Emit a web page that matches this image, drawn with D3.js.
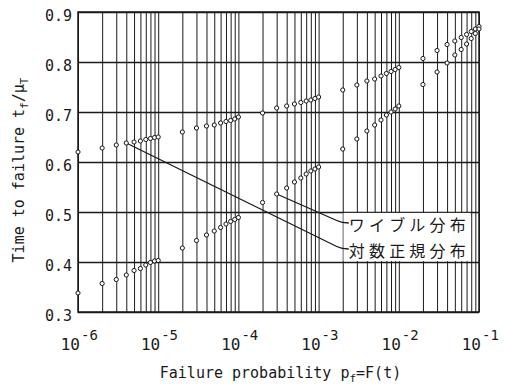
<!DOCTYPE html>
<html><head><meta charset="utf-8">
<script src="https://cdn.jsdelivr.net/npm/d3@7"></script>
<style>body{margin:0;background:#fff}svg{display:block}</style>
</head><body>
<svg id="c" width="505" height="385"></svg>
<script>
// ---- data ----
const probabilities = [
  1e-6, 2e-6, 3e-6, 4e-6, 5e-6, 6e-6, 7e-6, 8e-6, 9e-6,
  1e-5, 2e-5, 3e-5, 4e-5, 5e-5, 6e-5, 7e-5, 8e-5, 9e-5,
  1e-4, 2e-4, 3e-4, 4e-4, 5e-4, 6e-4, 7e-4, 8e-4, 9e-4,
  1e-3, 2e-3, 3e-3, 4e-3, 5e-3, 6e-3, 7e-3, 8e-3, 9e-3,
  1e-2, 2e-2, 3e-2, 4e-2, 5e-2, 6e-2, 7e-2, 8e-2, 9e-2,
  1e-1
];
// 対数正規分布 (upper series)
const lognormalValues = [
  0.620, 0.628, 0.634, 0.638, 0.640, 0.642, 0.645, 0.647, 0.649,
  0.650, 0.660, 0.668, 0.672, 0.674, 0.678, 0.681, 0.683, 0.686,
  0.690, 0.698, 0.708, 0.712, 0.716, 0.719, 0.722, 0.724, 0.727,
  0.730, 0.744, 0.754, 0.762, 0.766, 0.772, 0.777, 0.781, 0.785,
  0.789, 0.807, 0.823, 0.835, 0.842, 0.849, 0.855, 0.861, 0.866,
  0.871
];
// ワイブル分布 (lower series)
const weibullValues = [
  0.338, 0.357, 0.365, 0.374, 0.383, 0.387, 0.394, 0.399, 0.402,
  0.403, 0.428, 0.443, 0.454, 0.462, 0.469, 0.476, 0.481, 0.485,
  0.489, 0.519, 0.536, 0.548, 0.560, 0.568, 0.576, 0.582, 0.586,
  0.590, 0.626, 0.646, 0.662, 0.674, 0.684, 0.694, 0.700, 0.706,
  0.712, 0.755, 0.780, 0.798, 0.814, 0.825, 0.836, 0.847, 0.857,
  0.866
];
const yTicks = [0.3, 0.4, 0.5, 0.6, 0.7, 0.8, 0.9];
const yTickLabels = ["0.3", "0.4", "0.5", "0.6", "0.7", "0.8", "0.9"];
const xTickExponents = [-6, -5, -4, -3, -2, -1];
const labelWeibull = "ワイブル分布";
const labelLognormal = "対数正規分布";
// which points the leader lines start from
const weibullLeaderP = 3e-4;
const lognormalLeaderP = 4e-6;
// label box extent in data units
const labelBoxP = [2e-3, 8e-2];
const labelBoxT = [0.5, 0.4];

// ---- drawing ----
(function () {
const mLeft = 78, mRight = 479, mTop = 12, mBottom = 312;
const svg = d3.select("#c");
const x = d3.scaleLog().domain([1e-6, 1e-1]).range([mLeft, mRight]);
const y = d3.scaleLinear().domain([0.3, 0.9]).range([mBottom, mTop]);
const mono = "'DejaVu Sans Mono', 'Liberation Mono', monospace";
const ink = "#1a1a1a";

// vertical grid
const gx = svg.append("g").attr("transform", `translate(0,${mBottom})`)
  .call(d3.axisBottom(x).tickSize(-(mBottom - mTop)).tickFormat(""));
gx.select(".domain").remove();
gx.selectAll("line").attr("stroke", ink).attr("stroke-width", 1);

// horizontal grid
const gy = svg.append("g").attr("transform", `translate(${mLeft},0)`)
  .call(d3.axisLeft(y).tickValues(yTicks).tickSize(-(mRight - mLeft)).tickFormat(""));
gy.select(".domain").remove();
gy.selectAll("line").attr("stroke", ink).attr("stroke-width", 1.3);

// frame
svg.append("rect").attr("x", mLeft).attr("y", mTop)
  .attr("width", mRight - mLeft).attr("height", mBottom - mTop)
  .attr("fill", "none").attr("stroke", ink).attr("stroke-width", 1.5);

// label box (white, hides grid)
const bx0 = x(labelBoxP[0]), bx1 = x(labelBoxP[1]);
const by0 = y(labelBoxT[0]), by1 = y(labelBoxT[1]);
svg.append("rect").attr("x", bx0 + 0.8).attr("y", by0 + 0.9)
  .attr("width", bx1 - bx0 - 1.6).attr("height", by1 - by0 - 1.8)
  .attr("fill", "#fff");

// leader lines
function leader(p, vals, ly) {
  const i = probabilities.indexOf(p);
  const sx = x(p), sy = y(vals[i]);
  const ex = bx0 - 6;
  const ey = ly - 2.5;
  return `M${sx},${sy} L${ex},${ey} Q${bx0 - 1},${ly} ${bx0 + 6},${ly}`;
}
const wY = by0 + 11, lY = by0 + 37;
svg.append("path").attr("d", leader(weibullLeaderP, weibullValues, wY))
  .attr("fill", "none").attr("stroke", ink).attr("stroke-width", 1.3);
svg.append("path").attr("d", leader(lognormalLeaderP, lognormalValues, lY))
  .attr("fill", "none").attr("stroke", ink).attr("stroke-width", 1.3);

const cjk = "'Noto Sans CJK JP', 'Noto Sans CJK SC', sans-serif";
svg.append("text").attr("x", bx0 + 6).attr("y", wY + 8)
  .attr("font-family", cjk).attr("font-size", 16).attr("letter-spacing", 4.2)
  .attr("fill", ink).text(labelWeibull);
svg.append("text").attr("x", bx0 + 6).attr("y", lY + 8)
  .attr("font-family", cjk).attr("font-size", 16).attr("letter-spacing", 4.2)
  .attr("fill", ink).text(labelLognormal);

// points
[lognormalValues, weibullValues].forEach(vals => {
  svg.append("g").selectAll("circle")
    .data(probabilities.map((p, i) => [p, vals[i]]))
    .join("circle")
    .attr("cx", d => x(d[0])).attr("cy", d => y(d[1]))
    .attr("r", 2.1).attr("fill", "#fff")
    .attr("stroke", ink).attr("stroke-width", 1);
});

// y tick labels
svg.append("g").selectAll("text").data(yTicks).join("text")
  .attr("x", mLeft - 6).attr("y", d => y(d) + 8.5)
  .attr("text-anchor", "end").attr("font-family", mono).attr("font-size", 15)
  .attr("fill", ink).text((d, i) => yTickLabels[i]);

// x tick labels 10^k
const xl = svg.append("g");
xTickExponents.forEach(k => {
  const px = x(Math.pow(10, k));
  xl.append("text").attr("x", px + 2).attr("y", 350).attr("text-anchor", "end")
    .attr("font-family", mono).attr("font-size", 16).attr("fill", ink).text("10");
  xl.append("text").attr("x", px + 3).attr("y", 340).attr("text-anchor", "start")
    .attr("font-family", mono).attr("font-size", 14).attr("fill", ink).text("-" + Math.abs(k));
});

// x axis title
const xt = svg.append("text").attr("x", (mLeft + mRight) / 2 + 2).attr("y", 378)
  .attr("text-anchor", "middle").attr("font-family", mono).attr("font-size", 15)
  .attr("fill", ink);
xt.append("tspan").text("Failure probability p");
xt.append("tspan").attr("font-size", 11).attr("dy", 4).text("f");
xt.append("tspan").attr("dy", -4).text("=F(t)");

// y axis title
const yt = svg.append("text").attr("transform", "translate(24,170) rotate(-90)")
  .attr("text-anchor", "middle").attr("font-family", mono).attr("font-size", 15)
  .attr("fill", ink);
yt.append("tspan").text("Time to failure t");
yt.append("tspan").attr("font-size", 11).attr("dy", 4).text("f");
yt.append("tspan").attr("dy", -4).text("/μ");
yt.append("tspan").attr("font-size", 11).attr("dy", 4).text("T");
})();
</script>
</body></html>
